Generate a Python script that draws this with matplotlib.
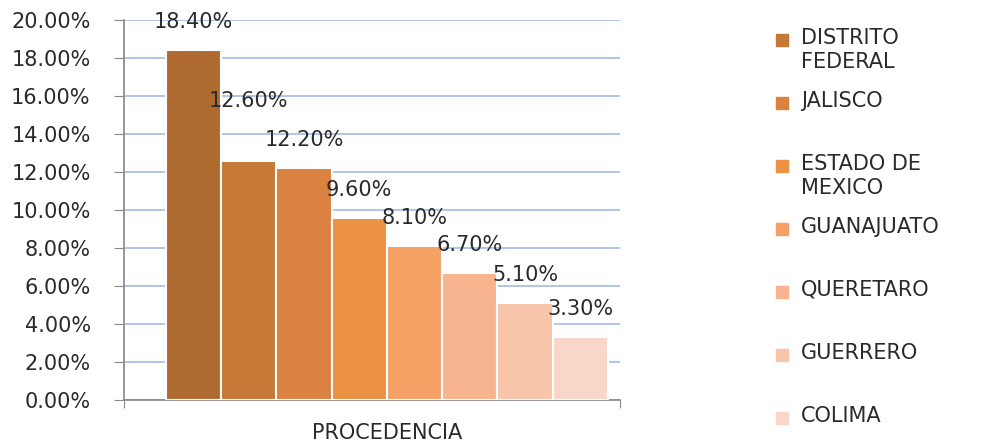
import matplotlib.pyplot as plt
from matplotlib.patches import Rectangle
from matplotlib.ticker import FuncFormatter

# Data
estados = ['DISTRITO FEDERAL', 'JALISCO', 'ESTADO DE MEXICO', 'GUANAJUATO',
           'QUERETARO', 'GUERRERO', 'COLIMA', '']
valores = [18.4, 12.6, 12.2, 9.6, 8.1, 6.7, 5.1, 3.3]
colores = ['#AE6A2F', '#C67835', '#DB8240', '#EB9245',
           '#F5A065', '#F8B48F', '#F8C5AA', '#F9D7C8']
leyenda = ['DISTRITO\nFEDERAL', 'JALISCO', 'ESTADO DE\nMEXICO', 'GUANAJUATO',
           'QUERETARO', 'GUERRERO', 'COLIMA']
yticks = [0, 2, 4, 6, 8, 10, 12, 14, 16, 18, 20]

plt.rcParams['font.family'] = ['DejaVu Sans']
FS = 15
TXT = '#2a2a2a'
W, H = 985, 446
fig = plt.figure(figsize=(W / 100, H / 100), dpi=100)
ax = fig.add_axes([124 / W, 46 / H, 496 / W, 380 / H])

pos = list(range(len(valores)))
ax.bar(pos, valores, width=1, align='edge', color=colores,
       edgecolor='white', linewidth=1.5, zorder=3)

# data labels above each bar (12.60% was nudged up in the original)
for i, v in enumerate(valores):
    dy = 60 if i == 1 else 28
    ax.annotate(f'{v:.2f}%', (i + 0.5, v), xytext=(0, dy),
                textcoords='offset pixels', ha='center', va='center',
                fontsize=FS, color=TXT, zorder=4)

ax.set_xlim(-0.76, 8.22)
ax.set_ylim(0, 20)
ax.set_yticks(yticks)
ax.yaxis.set_major_formatter(FuncFormatter(lambda y, _: f'{y:.2f}%'))
ax.tick_params(axis='y', labelsize=FS, colors='#888888', labelcolor=TXT,
               length=7, direction='out', pad=17)
ax.set_xticks([-0.76, 8.22])
ax.set_xticklabels([])
ax.tick_params(axis='x', colors='#888888', length=6, direction='out')
ax.grid(axis='y', color='#A9C0E8', linewidth=1.3, zorder=0)
for s in ['top', 'right']:
    ax.spines[s].set_visible(False)
for s in ['left', 'bottom']:
    ax.spines[s].set_color('#888888')
    ax.spines[s].set_linewidth(1.2)

ax.text(4, -1.2, 'PROCEDENCIA', ha='center', va='top', fontsize=FS,
        color=TXT)

# legend drawn by hand (first entry uses second bar colour, as in the original)
for i, lab in enumerate(leyenda):
    y = 40 + 63 * i
    fig.patches.append(Rectangle((776 / W, 1 - (y + 6) / H), 12 / W, 12 / H,
                                 transform=fig.transFigure, color=colores[i + 1]))
    fig.text(801 / W, 1 - (y - 12) / H, lab, ha='left', va='top', fontsize=FS,
             color=TXT, linespacing=1.25)

fig.savefig('out.png', dpi=100)
